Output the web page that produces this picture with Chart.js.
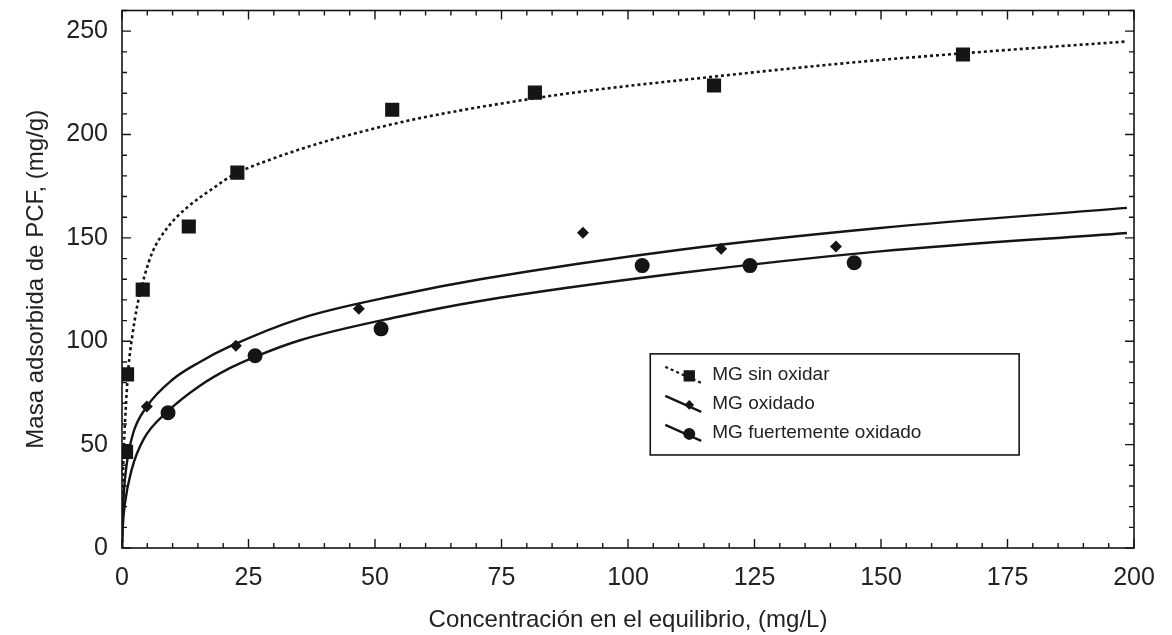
<!DOCTYPE html>
<html>
<head>
<meta charset="utf-8">
<script src="https://cdn.jsdelivr.net/npm/chart.js@4/dist/chart.umd.min.js"></script>
<style>
  body { margin: 0; background: #fff; }
  #wrap { width: 1172px; height: 635px; }
</style>
</head>
<body>
<div id="wrap"><canvas id="chart" width="1172" height="635"></canvas></div>
<script>
const sinOxidarC = [0.8, 1.0, 4.1, 13.2, 22.8, 53.4, 81.6, 117.0, 166.2];
const sinOxidarQ = [46.5, 84, 125, 155.5, 181.6, 212, 220.3, 223.7, 238.7];

const oxidadoC = [4.9, 22.5, 46.8, 91.1, 118.4, 141.1];
const oxidadoQ = [68.4, 97.8, 115.7, 152.5, 144.8, 145.8];

const fuerteC = [9.1, 26.3, 51.2, 102.8, 124.1, 144.7];
const fuerteQ = [65.4, 93, 106, 136.6, 136.6, 138];

// Fitted curves
const ajusteSinC = [0, 0.15, 0.4, 0.8, 1.3, 2, 3, 4.5, 6, 9, 13, 18, 22, 30, 40, 50, 60, 75, 90, 115, 145, 170, 198.5];
const ajusteSinQ = [0, 30, 50, 70, 88, 102, 117, 132, 143, 155, 165, 174, 180.5, 188.5, 196.5, 203, 208.5, 215, 220.5, 227.5, 235, 240, 245];

const ajusteOxC = [0, 0.1, 0.4, 0.9, 2.2, 4.9, 10, 15.4, 21.3, 35.2, 54.9, 70.8, 110.3, 149.8, 198.6];
const ajusteOxQ = [0, 12, 28, 40, 55.5, 68.4, 81.5, 90, 97.5, 111, 122.5, 130, 144.3, 154.8, 164.5];

const ajusteFuerteC = [0, 0.15, 0.6, 1.9, 4.2, 9, 15.4, 21.3, 26.3, 35.2, 54.9, 70.8, 110.3, 149.8, 198.6];
const ajusteFuerteQ = [0, 10, 21.8, 37.8, 52.3, 66, 78.5, 87, 92.5, 100.5, 112, 119.5, 133, 143.5, 152.4];

// Axis settings
const xMax = 200, xMajor = 25, xMinor = 5;
const yMax = 260, yMajor = 50, yMinor = 10;
const yTickValues = [0, 50, 100, 150, 200, 250];

const xTitle = 'Concentración en el equilibrio, (mg/L)';
const yTitle = 'Masa adsorbida de PCF, (mg/g)';
const legendLabels = ['MG sin oxidar', 'MG oxidado', 'MG fuertemente oxidado'];

const FONT = "'Liberation Sans', Arial, sans-serif";
const INK = '#151515';

function pairs(xs, ys) {
    return xs.map((x, i) => ({ x: x, y: ys[i] }));
}

// Frame with inward ticks on all four sides
const frameTicks = {
    id: 'frameTicks',
    afterDraw(chart) {
        const { ctx, chartArea: a, scales: { x, y } } = chart;
        ctx.save();
        ctx.strokeStyle = INK;
        ctx.lineWidth = 1.6;
        ctx.strokeRect(a.left, a.top, a.right - a.left, a.bottom - a.top);
        ctx.lineWidth = 1.4;
        ctx.beginPath();
        for (let v = 0; v <= xMax; v += xMinor) {
            const px = x.getPixelForValue(v);
            const len = v % xMajor === 0 ? 9 : 5;
            ctx.moveTo(px, a.bottom); ctx.lineTo(px, a.bottom - len);
            ctx.moveTo(px, a.top); ctx.lineTo(px, a.top + len);
        }
        for (let v = 0; v <= yMax; v += yMinor) {
            const py = y.getPixelForValue(v);
            const len = v % yMajor === 0 ? 9 : 5;
            ctx.moveTo(a.left, py); ctx.lineTo(a.left + len, py);
            ctx.moveTo(a.right, py); ctx.lineTo(a.right - len, py);
        }
        ctx.stroke();
        ctx.restore();
    }
};

// Boxed legend inside the plot
const boxLegend = {
    id: 'boxLegend',
    afterDraw(chart) {
        const ctx = chart.ctx;
        const x = chart.scales.x, y = chart.scales.y;
        const left = x.getPixelForValue(104.4), right = x.getPixelForValue(177.3);
        const top = y.getPixelForValue(93.9), bottom = y.getPixelForValue(45);
        ctx.save();
        ctx.strokeStyle = INK;
        ctx.lineWidth = 1.6;
        ctx.strokeRect(left, top, right - left, bottom - top);
        const rows = [chart.data.datasets[3], chart.data.datasets[4], chart.data.datasets[5]];
        const lines = [chart.data.datasets[0], chart.data.datasets[1], chart.data.datasets[2]];
        rows.forEach((ds, i) => {
            const cy = top + 21 + i * 29;
            const sx = left + 15;
            ctx.strokeStyle = INK;
            ctx.lineWidth = 2.2;
            ctx.setLineDash(lines[i].borderDash || []);
            ctx.beginPath();
            ctx.moveTo(sx, cy - 8);
            ctx.lineTo(sx + 36, cy + 8);
            ctx.stroke();
            ctx.setLineDash([]);
            ctx.fillStyle = INK;
            Chart.helpers.drawPoint(ctx, {
                pointStyle: ds.pointStyle,
                radius: ds.pointRadius * 0.8,
                rotation: 0
            }, sx + 24, cy + 1);
            ctx.fillStyle = '#222';
            ctx.font = '19px ' + FONT;
            ctx.textBaseline = 'middle';
            ctx.textAlign = 'left';
            ctx.fillText(legendLabels[i], left + 62, cy);
        });
        ctx.restore();
    }
};

const lineBase = {
    type: 'line',
    borderColor: INK,
    borderWidth: 2.4,
    pointRadius: 0,
    fill: false,
    cubicInterpolationMode: 'monotone'
};
const pointBase = {
    type: 'scatter',
    backgroundColor: INK,
    borderColor: INK,
    borderWidth: 0
};

new Chart(document.getElementById('chart'), {
    data: {
        datasets: [
            Object.assign({}, lineBase, { label: 'ajuste sin oxidar', data: pairs(ajusteSinC, ajusteSinQ), borderDash: [3, 3], borderWidth: 2.6 }),
            Object.assign({}, lineBase, { label: 'ajuste oxidado', data: pairs(ajusteOxC, ajusteOxQ) }),
            Object.assign({}, lineBase, { label: 'ajuste fuertemente oxidado', data: pairs(ajusteFuerteC, ajusteFuerteQ) }),
            Object.assign({}, pointBase, { label: legendLabels[0], data: pairs(sinOxidarC, sinOxidarQ), pointStyle: 'rect', pointRadius: 10 }),
            Object.assign({}, pointBase, { label: legendLabels[1], data: pairs(oxidadoC, oxidadoQ), pointStyle: 'rectRot', pointRadius: 6 }),
            Object.assign({}, pointBase, { label: legendLabels[2], data: pairs(fuerteC, fuerteQ), pointStyle: 'circle', pointRadius: 7.5 })
        ]
    },
    options: {
        responsive: false,
        animation: false,
        layout: { padding: { top: 10.5, right: 38, left: 0, bottom: 0 } },
        plugins: {
            legend: { display: false },
            tooltip: { enabled: false }
        },
        scales: {
            x: {
                type: 'linear',
                min: 0,
                max: xMax,
                grid: { display: false, drawTicks: false },
                border: { display: false },
                ticks: { stepSize: xMajor, padding: 15, color: '#222', font: { family: FONT, size: 25 } },
                title: { display: true, text: xTitle, color: '#222', font: { family: FONT, size: 24 }, padding: { top: 8, bottom: 0 } },
                afterFit(scale) {
                    scale.height = 87;
                    scale.paddingLeft = 0;
                    scale.paddingRight = 0;
                }
            },
            y: {
                type: 'linear',
                min: 0,
                max: yMax,
                grid: { display: false, drawTicks: false },
                border: { display: false },
                ticks: { padding: 14, color: '#222', font: { family: FONT, size: 25 } },
                afterBuildTicks(scale) { scale.ticks = yTickValues.map(v => ({ value: v })); },
                title: { display: true, text: yTitle, color: '#222', font: { family: FONT, size: 24 }, padding: { top: 22, bottom: 10 } },
                afterFit(scale) {
                    scale.width = 122;
                    scale.paddingTop = 0;
                    scale.paddingBottom = 0;
                }
            }
        }
    },
    plugins: [frameTicks, boxLegend]
});
</script>
</body>
</html>
